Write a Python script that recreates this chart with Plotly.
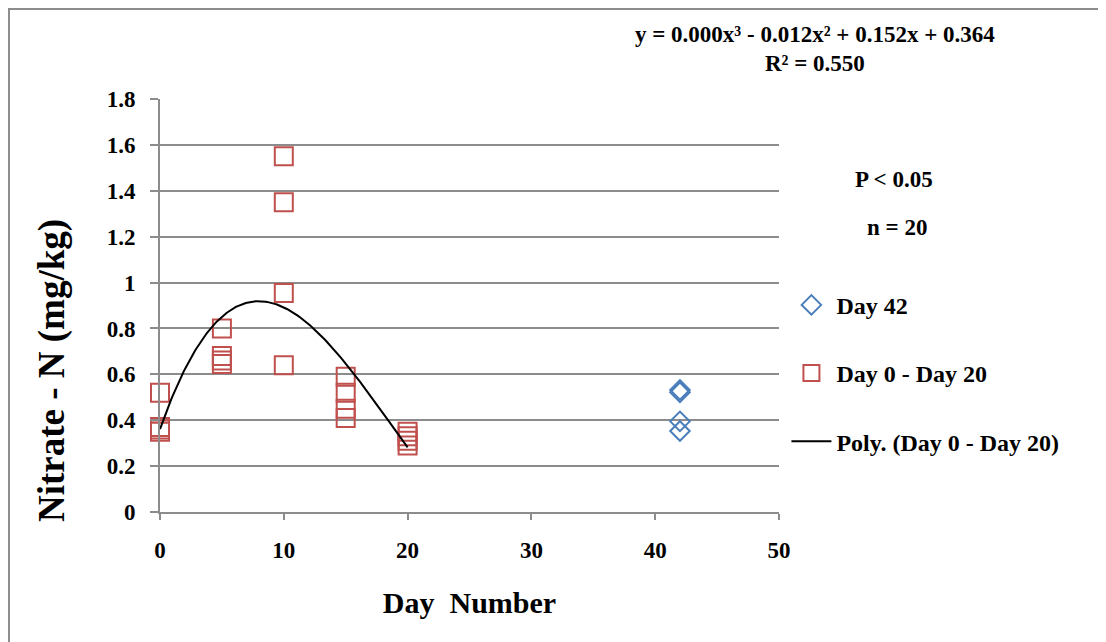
import numpy as np
import plotly.graph_objects as go

# Data
day_early = [0, 0, 0, 0, 5, 5, 5, 5, 10, 10, 10, 10, 15, 15, 15, 15, 20, 20, 20, 20]
nitrate_early = [0.52, 0.37, 0.36, 0.35,
                 0.80, 0.68, 0.66, 0.645,
                 1.55, 1.35, 0.955, 0.64,
                 0.59, 0.52, 0.45, 0.41,
                 0.35, 0.33, 0.31, 0.29]
day_42 = [42, 42, 42, 42]
nitrate_42 = [0.532, 0.522, 0.395, 0.353]

x_ticks = [0, 10, 20, 30, 40, 50]
y_ticks = [0, 0.2, 0.4, 0.6, 0.8, 1, 1.2, 1.4, 1.6, 1.8]
y_tick_text = ["0", "0.2", "0.4", "0.6", "0.8", "1", "1.2", "1.4", "1.6", "1.8"]

equation_text = "y = 0.000x³ - 0.012x² + 0.152x + 0.364"
r2_text = "R² = 0.550"

# Polynomial (order 3) trendline fitted to Day 0 - Day 20 data
coef = np.polyfit(day_early, nitrate_early, 3)
xs = np.linspace(min(day_early), max(day_early), 200)
ys = np.polyval(coef, xs)

FONT = "Liberation Serif"
GRID = "#8c8c8c"

fig = go.Figure()
fig.add_trace(go.Scatter(
    x=day_42, y=nitrate_42, mode="markers", name="<b>Day 42</b>", cliponaxis=False,
    marker=dict(symbol="diamond-open", size=15, color="#4a7ebb", line=dict(width=2, color="#4a7ebb")),
    legendgroup="a"))
fig.add_trace(go.Scatter(
    x=day_early, y=nitrate_early, mode="markers", name="<b>Day 0 - Day 20</b>", cliponaxis=False,
    marker=dict(symbol="square-open", size=18, color="#c0504d", line=dict(width=2, color="#c0504d")),
    legendgroup="b"))
fig.add_trace(go.Scatter(
    x=xs, y=ys, mode="lines", name="<b>Poly. (Day 0 - Day 20)</b>", cliponaxis=False,
    line=dict(color="black", width=2), legendgroup="c"))

fig.update_layout(
    width=1098, height=634,
    margin=dict(l=152, r=327, t=91, b=130),
    paper_bgcolor="white", plot_bgcolor="white",
    font=dict(family=FONT, color="black", size=22),
    legend=dict(x=1.012, y=0.555, xanchor="left", yanchor="top",
                font=dict(family=FONT, size=24, color="black"),
                tracegroupgap=34, bgcolor="rgba(0,0,0,0)", itemwidth=40),
    xaxis=dict(range=[0, 50], tickvals=x_ticks, ticktext=["<b>%s</b>" % v for v in x_ticks],
               showgrid=False, zeroline=False, showline=True, linecolor=GRID, linewidth=2,
               ticks="outside", ticklen=6, tickcolor=GRID, tickwidth=2, ticklabelstandoff=10,
               tickfont=dict(family=FONT, size=23, color="black"),
               title=dict(text="<b>Day  Number</b>", font=dict(family=FONT, size=30, color="black"), standoff=30)),
    yaxis=dict(range=[0, 1.8], tickvals=y_ticks, ticktext=["<b>%s</b>" % t for t in y_tick_text],
               showgrid=True, gridcolor=GRID, gridwidth=2, zeroline=False,
               showline=True, linecolor=GRID, linewidth=2,
               ticks="outside", ticklen=8, tickcolor=GRID, tickwidth=2, ticklabelstandoff=10,
               tickfont=dict(family=FONT, size=23, color="black")),
    showlegend=True,
)

# y-axis title (placed as in the reference, below the plot-area centre)
fig.add_annotation(x=(52 - 160) / 619, y=(512 - 370) / 413, xref="paper", yref="paper",
                   text="<b>Nitrate - N (mg/kg)</b>", textangle=-90, showarrow=False,
                   font=dict(family=FONT, size=37, color="black"), xanchor="center", yanchor="middle")

fig.add_annotation(x=1.058, y=1.155, xref="paper", yref="paper", text="<b>%s</b>" % equation_text,
                   showarrow=False, font=dict(family=FONT, size=23, color="black"), xanchor="center", yanchor="middle")
fig.add_annotation(x=1.058, y=1.087, xref="paper", yref="paper", text="<b>%s</b>" % r2_text,
                   showarrow=False, font=dict(family=FONT, size=23, color="black"), xanchor="center", yanchor="middle")
fig.add_annotation(x=1.186, y=0.804, xref="paper", yref="paper", text="<b>P < 0.05</b>",
                   showarrow=False, font=dict(family=FONT, size=23, color="black"), xanchor="center", yanchor="middle")
fig.add_annotation(x=1.191, y=0.688, xref="paper", yref="paper", text="<b>n = 20</b>",
                   showarrow=False, font=dict(family=FONT, size=23, color="black"), xanchor="center", yanchor="middle")

# outer chart border
fig.add_shape(type="rect", xref="paper", yref="paper", x0=-0.244, x1=1.5186, y0=-0.33, y1=1.218,
              line=dict(color="#8c8c8c", width=2), fillcolor="rgba(0,0,0,0)", layer="below")

fig.write_html("out.html")
